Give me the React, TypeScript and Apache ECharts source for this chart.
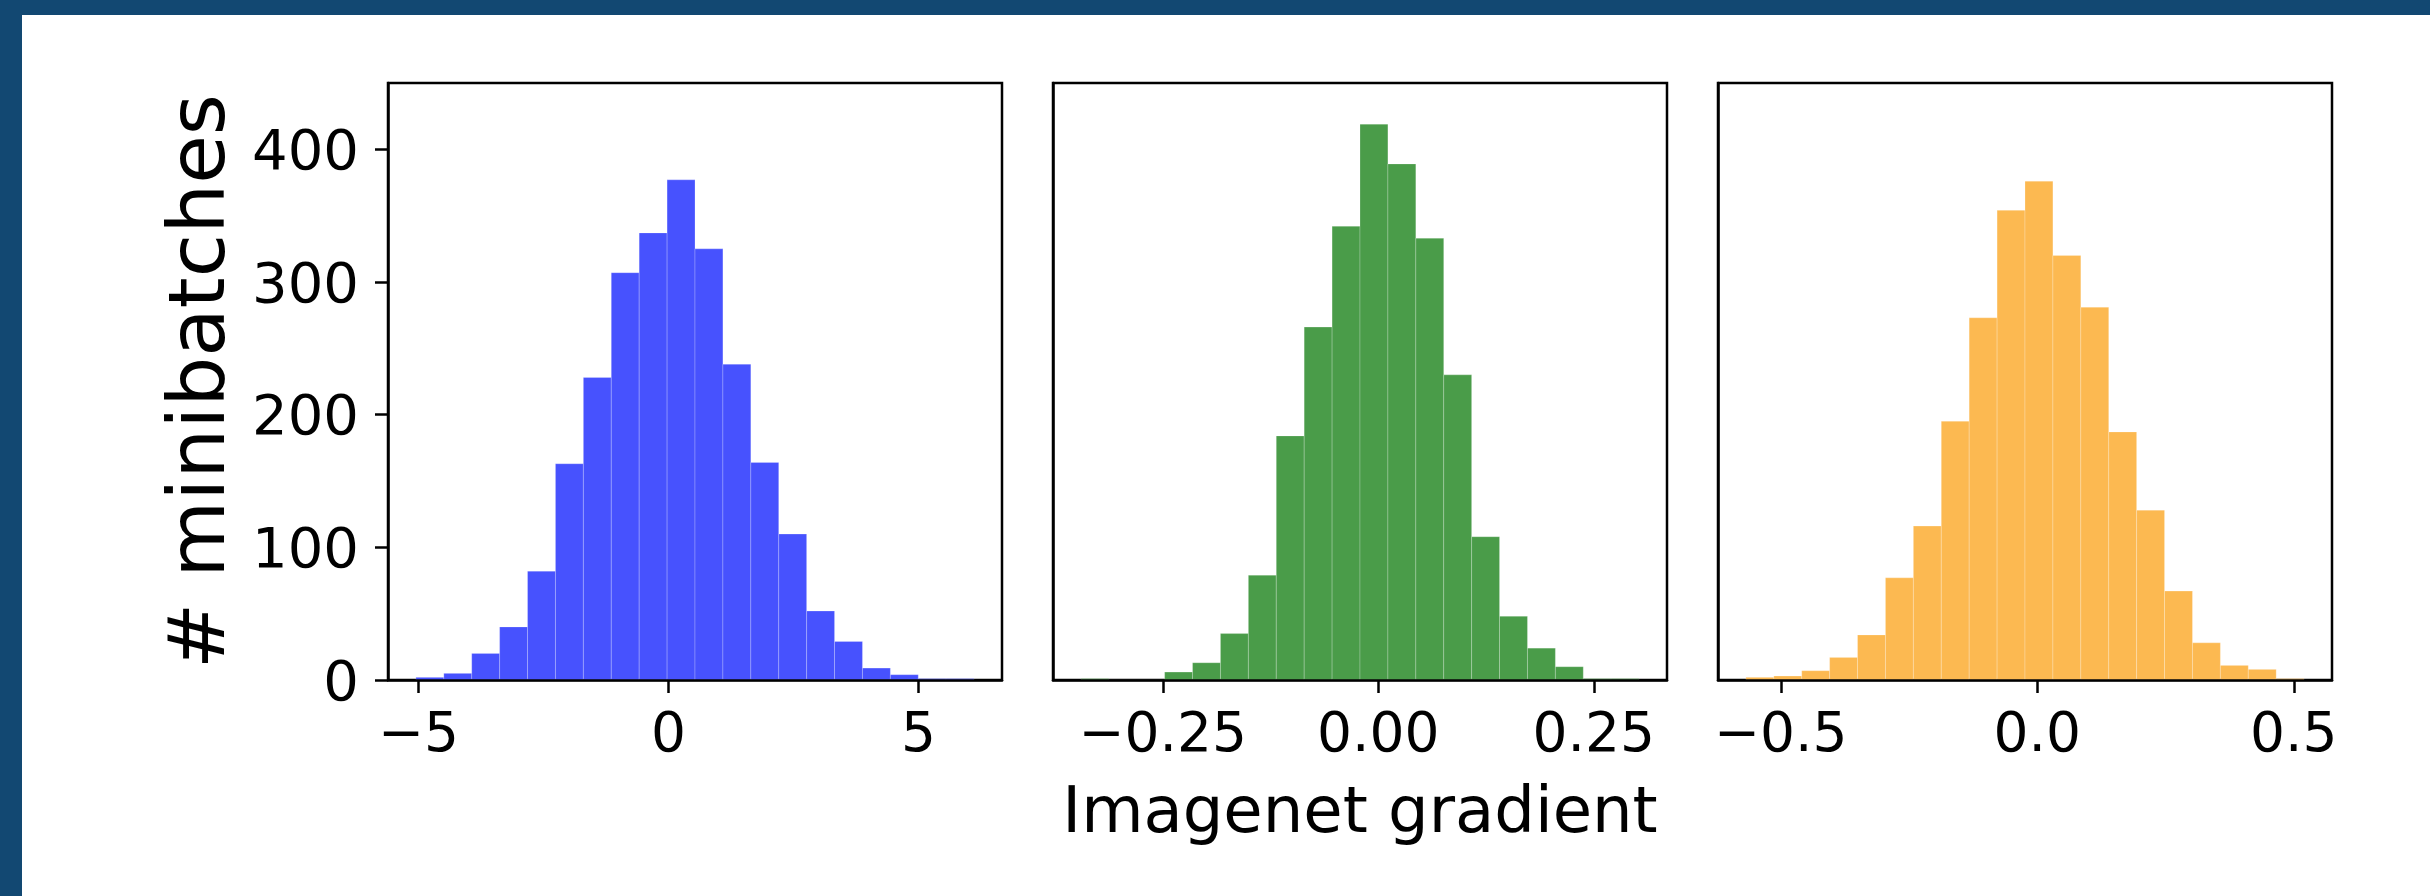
import { useEffect, useRef } from "react";
import * as echarts from "echarts";

// Histogram counts per panel (20 bins each) and the bin range they cover.
const blueCounts = [2, 5, 20, 40, 82, 163, 228, 307, 337, 377, 325, 238, 164, 110, 52, 29, 9, 4, 1, 1];
const blueRange = [-5.05, 6.11];
const blueTicks = [-5, 0, 5];

const greenCounts = [1, 0, 0, 6, 13, 35, 79, 184, 266, 342, 419, 389, 333, 230, 108, 48, 24, 10, 1, 1];
const greenRange = [-0.345, 0.3025];
const greenTicks = [-0.25, 0, 0.25];

const orangeCounts = [2, 3, 7, 17, 34, 77, 116, 195, 273, 354, 376, 320, 281, 187, 128, 67, 28, 11, 8, 1];
const orangeRange = [-0.568, 0.52];
const orangeTicks = [-0.5, 0, 0.5];

const yTicks = [0, 100, 200, 300, 400];
const yMax = 450;

const yTitle = "# minibatches";
const xTitle = "Imagenet gradient";

const FONT = "DejaVu Sans";
const INK = "#000";
const FRAME = "#124872";

type Panel = {
  counts: number[];
  range: number[];
  ticks: number[];
  digits: number;
  color: string;
};

const panels: Panel[] = [
  { counts: blueCounts, range: blueRange, ticks: blueTicks, digits: 0, color: "#4752fe" },
  { counts: greenCounts, range: greenRange, ticks: greenTicks, digits: 2, color: "#4a9c49" },
  { counts: orangeCounts, range: orangeRange, ticks: orangeTicks, digits: 1, color: "#fcb951" },
];

const gridLefts = [388, 1053, 1718];
const gridTop = 83;
const gridW = 614;
const gridH = 597;

function binRows(p: Panel) {
  const n = p.counts.length;
  const w = (p.range[1] - p.range[0]) / n;
  return p.counts.map((c, i) => [p.range[0] + i * w, p.range[0] + (i + 1) * w, c]);
}

function fmt(v: number, digits: number) {
  const s = Math.abs(v).toFixed(digits);
  return v < 0 ? "\u2212" + s : s;
}

export default function App() {
  const ref = useRef<HTMLDivElement>(null);

  useEffect(() => {
    document.body.style.margin = "0";
    if (!ref.current) return;
    const chart = echarts.init(ref.current, undefined, { renderer: "svg" });

    const grids = gridLefts.map((left) => ({
      left,
      top: gridTop,
      width: gridW,
      height: gridH,
      show: true,
      borderColor: INK,
      borderWidth: 2.5,
      backgroundColor: "transparent",
      z: 0,
    }));

    const xAxes = panels.map((p, i) => {
      const span = p.range[1] - p.range[0];
      return {
        type: "value",
        gridIndex: i,
        min: p.range[0] - 0.05 * span,
        max: p.range[1] + 0.05 * span,
        z: 5,
        splitLine: { show: false },
        axisLine: { show: true, onZero: false, lineStyle: { color: INK, width: 2.5 } },
        axisTick: {
          show: true,
          length: 13,
          customValues: p.ticks,
          lineStyle: { color: INK, width: 2.5 },
        },
        axisLabel: {
          show: true,
          customValues: p.ticks,
          margin: 24,
          color: INK,
          fontFamily: FONT,
          fontSize: 55,
          formatter: (v: number) => fmt(v, p.digits),
        },
        name: i === 1 ? xTitle : "",
        nameLocation: "middle",
        nameGap: 98,
        nameTextStyle: { color: INK, fontFamily: FONT, fontSize: 64 },
      };
    });

    const yAxes = panels.map((_, i) => ({
      type: "value",
      gridIndex: i,
      min: 0,
      max: yMax,
      z: 5,
      splitLine: { show: false },
      axisLine: { show: true, onZero: false, lineStyle: { color: INK, width: 2.5 } },
      axisTick: {
        show: i === 0,
        length: 13,
        customValues: yTicks,
        lineStyle: { color: INK, width: 2.5 },
      },
      axisLabel: {
        show: i === 0,
        customValues: yTicks,
        margin: 29,
        color: INK,
        fontFamily: FONT,
        fontSize: 56,
      },
      name: i === 0 ? yTitle : "",
      nameLocation: "middle",
      nameRotate: 90,
      nameGap: 152,
      nameTextStyle: { color: INK, fontFamily: FONT, fontSize: 79 },
    }));

    const series = panels.map((p, i) => ({
      type: "custom",
      xAxisIndex: i,
      yAxisIndex: i,
      z: 2,
      data: binRows(p),
      encode: { x: [0, 1], y: 2 },
      renderItem: (_params: any, api: any) => {
        const a = api.coord([api.value(0), api.value(2)]);
        const b = api.coord([api.value(1), 0]);
        return {
          type: "rect",
          shape: { x: a[0], y: a[1], width: b[0] - a[0], height: b[1] - a[1] },
          style: { fill: p.color, stroke: "rgba(255,255,255,0.22)", lineWidth: 1 },
        };
      },
    }));

    chart.setOption({
      animation: false,
      backgroundColor: "#fff",
      textStyle: { fontFamily: FONT },
      grid: grids,
      xAxis: xAxes,
      yAxis: yAxes,
      series,
      graphic: [
        { type: "rect", left: 0, top: 0, shape: { width: 2430, height: 15 }, style: { fill: FRAME }, silent: true },
        { type: "rect", left: 0, top: 0, shape: { width: 22, height: 896 }, style: { fill: FRAME }, silent: true },
      ],
    });

    return () => chart.dispose();
  }, []);

  return <div ref={ref} style={{ width: 2430, height: 896 }} />;
}
